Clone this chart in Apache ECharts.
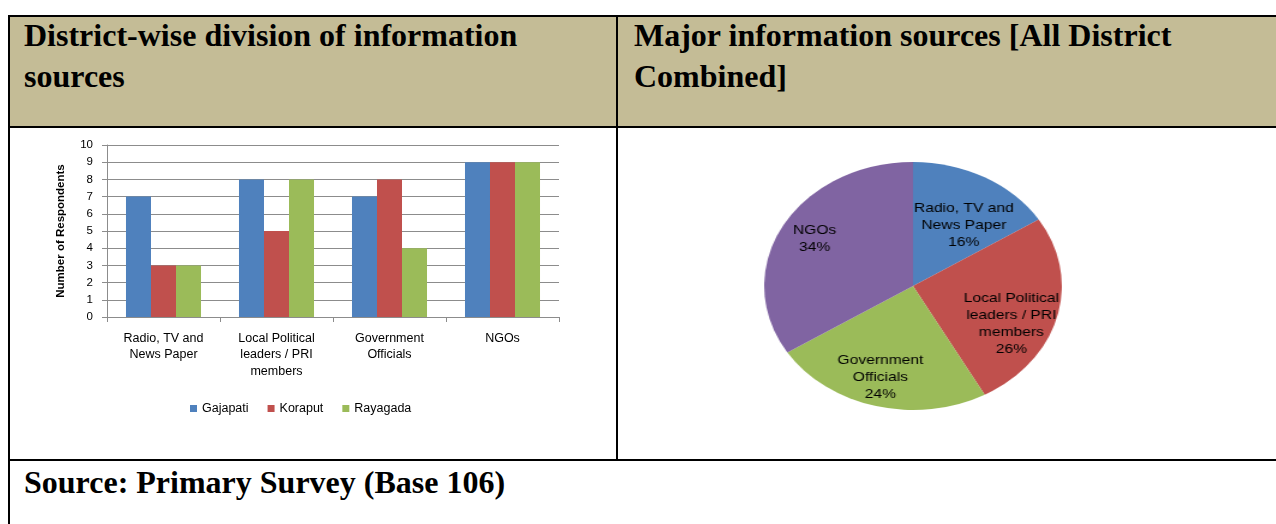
<!DOCTYPE html>
<html>
<head>
<meta charset="utf-8">
<script src="https://cdn.jsdelivr.net/npm/echarts@6/dist/echarts.min.js"></script>
<style>
  body { margin: 0; width: 1276px; height: 524px; background: #fff; position: relative; overflow: hidden; }
  .hdr { position: absolute; top: 16px; height: 110px; background: #C4BC96; }
  .line { position: absolute; background: #000; }
  .title {
    position: absolute;
    font-family: "Liberation Serif", serif;
    font-weight: bold;
    font-size: 32px;
    line-height: 41px;
    white-space: nowrap;
  }
  #bar { position: absolute; left: 10px; top: 130px; width: 605px; height: 328px; }
  /* the pie in the reference is an ellipse, so stretch it sideways */
  #pie { position: absolute; left: 763px; top: 136px; width: 300px; height: 300px;
         transform: scaleX(1.2); transform-origin: 50% 50%; }
</style>
</head>
<body>
  <!-- table cells -->
  <div class="hdr" style="left:9px; width:608px;"></div>
  <div class="hdr" style="left:617px; width:659px;"></div>

  <div class="line" style="left:8px; top:15px; width:1268px; height:2px;"></div>
  <div class="line" style="left:8px; top:126px; width:1268px; height:2px;"></div>
  <div class="line" style="left:8px; top:459px; width:1268px; height:2px;"></div>
  <div class="line" style="left:8px; top:15px; width:2px; height:509px;"></div>
  <div class="line" style="left:616px; top:15px; width:2px; height:446px;"></div>

  <div class="title" style="left:24px; top:15px;">District-wise division of information<br>sources</div>
  <div class="title" style="left:634px; top:15px;">Major information sources [All District<br>Combined]</div>
  <div class="title" style="left:24px; top:462px;">Source: Primary Survey (Base 106)</div>

  <div id="bar"></div>
  <div id="pie"></div>

<script>
// categories / districts
const categories = ['Radio, TV and\nNews Paper', 'Local Political\nleaders / PRI\nmembers', 'Government\nOfficials', 'NGOs'];
const districts = ['Gajapati', 'Koraput', 'Rayagada'];

// number of respondents per district
const gajapati = [7, 8, 7, 9];
const koraput  = [3, 5, 8, 9];
const rayagada = [3, 8, 4, 9];

// all districts combined (%)
const pieNames  = ['Radio, TV and\nNews Paper', 'Local Political\nleaders / PRI\nmembers', 'Government\nOfficials', 'NGOs'];
const pieValues = [16, 26, 24, 34];

const barColors = ['#4F81BD', '#C0504D', '#9BBB59'];
const pieColors = ['#4F81BD', '#C0504D', '#9BBB59', '#8064A2'];
// nudge the inside labels outward like Excel does
const pieLabelOffsets = [[11, -4], [19, 22], [-11, 28], [-25, -16]];

const font = 'Liberation Sans';
const gridColor = '#8C8C8C';

const barChart = echarts.init(document.getElementById('bar'));
const barSeries = [gajapati, koraput, rayagada].map((vals, i) => ({
  name: districts[i],
  type: 'bar',
  data: vals,
  barGap: 0,
  barCategoryGap: '33.6%',
  itemStyle: { color: barColors[i] }
}));

barChart.setOption({
  animation: false,
  textStyle: { fontFamily: font },
  legend: {
    data: districts,
    left: 175,
    top: 267,
    itemWidth: 7,
    itemHeight: 7,
    itemGap: 19,
    icon: 'rect',
    textStyle: { fontFamily: font, fontSize: 12.5, color: '#000' }
  },
  grid: { left: 97, top: 15, width: 452, height: 172 },
  xAxis: {
    type: 'category',
    data: categories,
    axisLine: { lineStyle: { color: gridColor } },
    axisTick: { show: true, length: 5, lineStyle: { color: gridColor } },
    axisLabel: { interval: 0, margin: 13, fontSize: 12.5, lineHeight: 16.5, color: '#000', fontFamily: font }
  },
  yAxis: {
    type: 'value',
    min: 0,
    max: 10,
    interval: 1,
    name: 'Number of Respondents',
    nameLocation: 'middle',
    nameRotate: 90,
    nameGap: 40,
    nameTextStyle: { fontFamily: font, fontSize: 11.5, fontWeight: 'bold', color: '#000' },
    axisLine: { show: true, lineStyle: { color: gridColor } },
    axisTick: { show: true, length: 5, lineStyle: { color: gridColor } },
    axisLabel: { margin: 14, fontSize: 11.5, color: '#000', fontFamily: font },
    splitLine: { lineStyle: { color: gridColor, width: 1 } }
  },
  series: barSeries
});

const pieChart = echarts.init(document.getElementById('pie'));
pieChart.setOption({
  animation: false,
  series: [{
    type: 'pie',
    center: ['50%', '50%'],
    radius: 124,
    startAngle: 90,
    clockwise: true,
    percentPrecision: 0,
    label: {
      position: 'inside',
      formatter: '{b}\n{d}%',
      fontFamily: font,
      fontSize: 13,
      lineHeight: 17,
      color: '#000'
    },
    labelLine: { show: false },
    itemStyle: { borderWidth: 0 },
    data: pieNames.map((n, i) => ({
      name: n,
      value: pieValues[i],
      itemStyle: { color: pieColors[i] },
      label: { offset: pieLabelOffsets[i] }
    }))
  }]
});
</script>
</body>
</html>
